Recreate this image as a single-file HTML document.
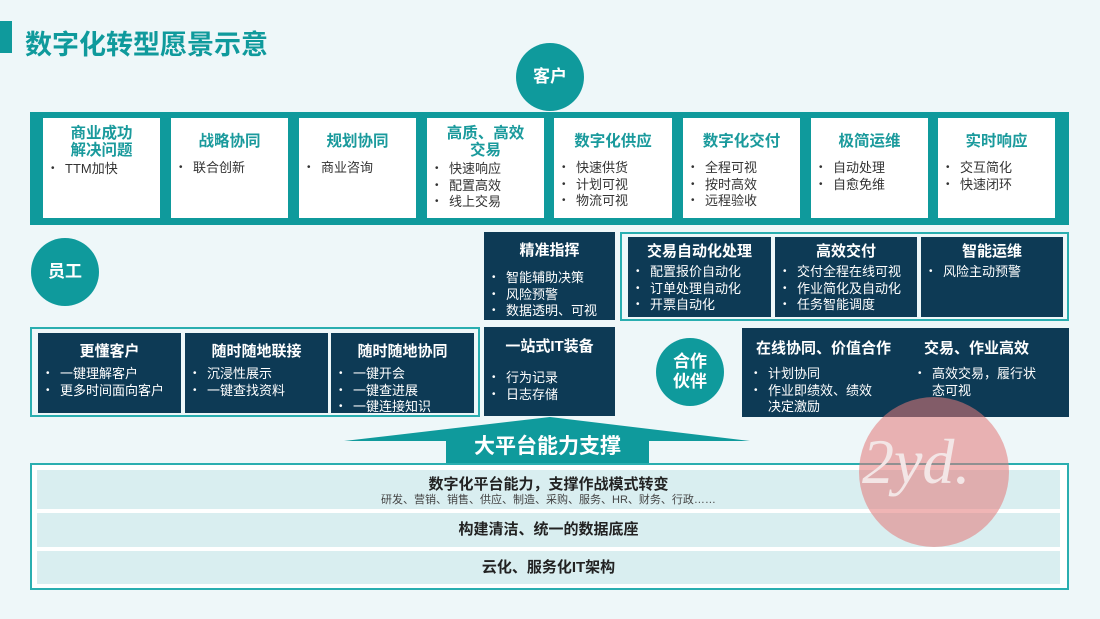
<!DOCTYPE html>
<html><head><meta charset="utf-8"><style>
*{margin:0;padding:0;box-sizing:border-box}
body{width:1100px;height:619px;background:#eef7f9;position:relative;overflow:hidden;font-family:"Liberation Sans","Noto Sans CJK SC",sans-serif}
.a{position:absolute}
.circ{position:absolute;border-radius:50%;background:#0f9a9c;color:#fff;font-weight:bold;font-size:17px;display:flex;align-items:center;justify-content:center;text-align:center;line-height:1.2}
.wc{position:absolute;background:#fff;top:118px;height:100px}
.wc h3{color:#1a9a9c;font-size:15.5px;text-align:center;line-height:17px;margin-top:7px;margin-bottom:2px;font-weight:bold}
.wc h3.one{margin-top:15px;margin-bottom:10px}
ul{list-style:none}
li{position:relative;padding-left:22px;font-size:13px;line-height:16.5px}
li:before{content:"•";position:absolute;left:8px;font-size:10px}
.wc li{color:#333}
.dk{position:absolute;background:#0d3a55;color:#fff}
.dk h3{font-size:15px;text-align:center;font-weight:bold;margin-top:7px;margin-bottom:5px}
.ol{position:absolute;border:2px solid #2aaeb0;background:#eef7f9}
.row{position:absolute;left:37px;width:1023px;background:#d9eef0;text-align:center;color:#222;font-weight:bold;font-size:15px}
</style></head><body>
<div class="a" style="left:0;top:21px;width:12px;height:32px;background:#0f9a9c"></div>
<div class="a" style="left:25px;top:23px;font-size:27px;font-weight:bold;color:#0f9a9c">数字化转型愿景示意</div>
<div class="circ" style="left:516px;top:43px;width:68px;height:68px">客户</div>

<div class="a" style="left:30px;top:112px;width:1039px;height:113px;background:#0f9a9c"></div>
<div class="wc" style="left:43px;width:117px"><h3>商业成功<br>解决问题</h3><ul><li>TTM加快</li></ul></div>
<div class="wc" style="left:171px;width:117px"><h3 class="one">战略协同</h3><ul><li>联合创新</li></ul></div>
<div class="wc" style="left:299px;width:117px"><h3 class="one">规划协同</h3><ul><li>商业咨询</li></ul></div>
<div class="wc" style="left:427px;width:117px"><h3>高质、高效<br>交易</h3><ul><li>快速响应</li><li>配置高效</li><li>线上交易</li></ul></div>
<div class="wc" style="left:554px;width:118px"><h3 class="one">数字化供应</h3><ul><li>快速供货</li><li>计划可视</li><li>物流可视</li></ul></div>
<div class="wc" style="left:683px;width:117px"><h3 class="one">数字化交付</h3><ul><li>全程可视</li><li>按时高效</li><li>远程验收</li></ul></div>
<div class="wc" style="left:811px;width:117px"><h3 class="one">极简运维</h3><ul><li>自动处理</li><li>自愈免维</li></ul></div>
<div class="wc" style="left:938px;width:117px"><h3 class="one">实时响应</h3><ul><li>交互简化</li><li>快速闭环</li></ul></div>

<div class="circ" style="left:31px;top:238px;width:68px;height:68px">员工</div>

<div class="ol" style="left:30px;top:327px;width:450px;height:90px"></div>
<div class="dk" style="left:38px;top:333px;width:143px;height:80px"><h3>更懂客户</h3><ul><li>一键理解客户</li><li>更多时间面向客户</li></ul></div>
<div class="dk" style="left:185px;top:333px;width:143px;height:80px"><h3>随时随地联接</h3><ul><li>沉浸性展示</li><li>一键查找资料</li></ul></div>
<div class="dk" style="left:331px;top:333px;width:143px;height:80px"><h3>随时随地协同</h3><ul><li>一键开会</li><li>一键查进展</li><li>一键连接知识</li></ul></div>

<div class="dk" style="left:484px;top:232px;width:131px;height:88px"><h3>精准指挥</h3><ul style="margin-top:10px"><li>智能辅助决策</li><li>风险预警</li><li>数据透明、可视</li></ul></div>
<div class="dk" style="left:484px;top:327px;width:131px;height:89px"><h3 style="margin-top:8px">一站式IT装备</h3><ul style="margin-top:14px"><li>行为记录</li><li>日志存储</li></ul></div>

<div class="ol" style="left:620px;top:232px;width:449px;height:89px"></div>
<div class="dk" style="left:628px;top:237px;width:143px;height:80px"><h3 style="margin-top:3px;margin-bottom:3px">交易自动化处理</h3><ul><li>配置报价自动化</li><li>订单处理自动化</li><li>开票自动化</li></ul></div>
<div class="dk" style="left:775px;top:237px;width:142px;height:80px"><h3 style="margin-top:3px;margin-bottom:3px">高效交付</h3><ul><li>交付全程在线可视</li><li>作业简化及自动化</li><li>任务智能调度</li></ul></div>
<div class="dk" style="left:921px;top:237px;width:142px;height:80px"><h3 style="margin-top:3px;margin-bottom:3px">智能运维</h3><ul><li>风险主动预警</li></ul></div>

<div class="circ" style="left:656px;top:338px;width:68px;height:68px">合作<br>伙伴</div>
<div class="dk" style="left:742px;top:328px;width:327px;height:89px">
<div class="a" style="left:14px;top:9px;font-size:15px;font-weight:bold">在线协同、价值合作</div>
<div class="a" style="left:182px;top:9px;font-size:15px;font-weight:bold">交易、作业高效</div>
<ul class="a" style="left:4px;top:38px;width:170px"><li>计划协同</li><li>作业即绩效、绩效<br>决定激励</li></ul>
<ul class="a" style="left:168px;top:38px;width:155px"><li>高效交易，履行状<br>态可视</li></ul>
</div>

<svg class="a" style="left:0;top:0" width="1100" height="619"><polygon points="344,441 550,417 750,441 649,441 649,464 446,464 446,441" fill="#0f9a9c"/></svg>
<div class="a" style="left:446px;top:430px;width:203px;text-align:center;color:#fff;font-weight:bold;font-size:21px">大平台能力支撑</div>

<div class="ol" style="left:30px;top:463px;width:1039px;height:127px;background:#fff"></div>
<div class="row" style="top:470px;height:39px"><div style="margin-top:3px">数字化平台能力，支撑作战模式转变</div><div style="font-size:11px;font-weight:normal;color:#444;line-height:13px">研发、营销、销售、供应、制造、采购、服务、HR、财务、行政……</div></div>
<div class="row" style="top:513px;height:34px;line-height:34px">构建清洁、统一的数据底座</div>
<div class="row" style="top:551px;height:33px;line-height:33px">云化、服务化IT架构</div>

<div class="a" style="left:859px;top:397px;width:150px;height:150px;border-radius:50%;background:rgba(228,120,120,0.55)"></div>
<div class="a" style="left:862px;top:425px;font-family:'Liberation Serif',serif;font-style:italic;font-size:64px;color:#f3e6e6">2yd.</div>
</body></html>
